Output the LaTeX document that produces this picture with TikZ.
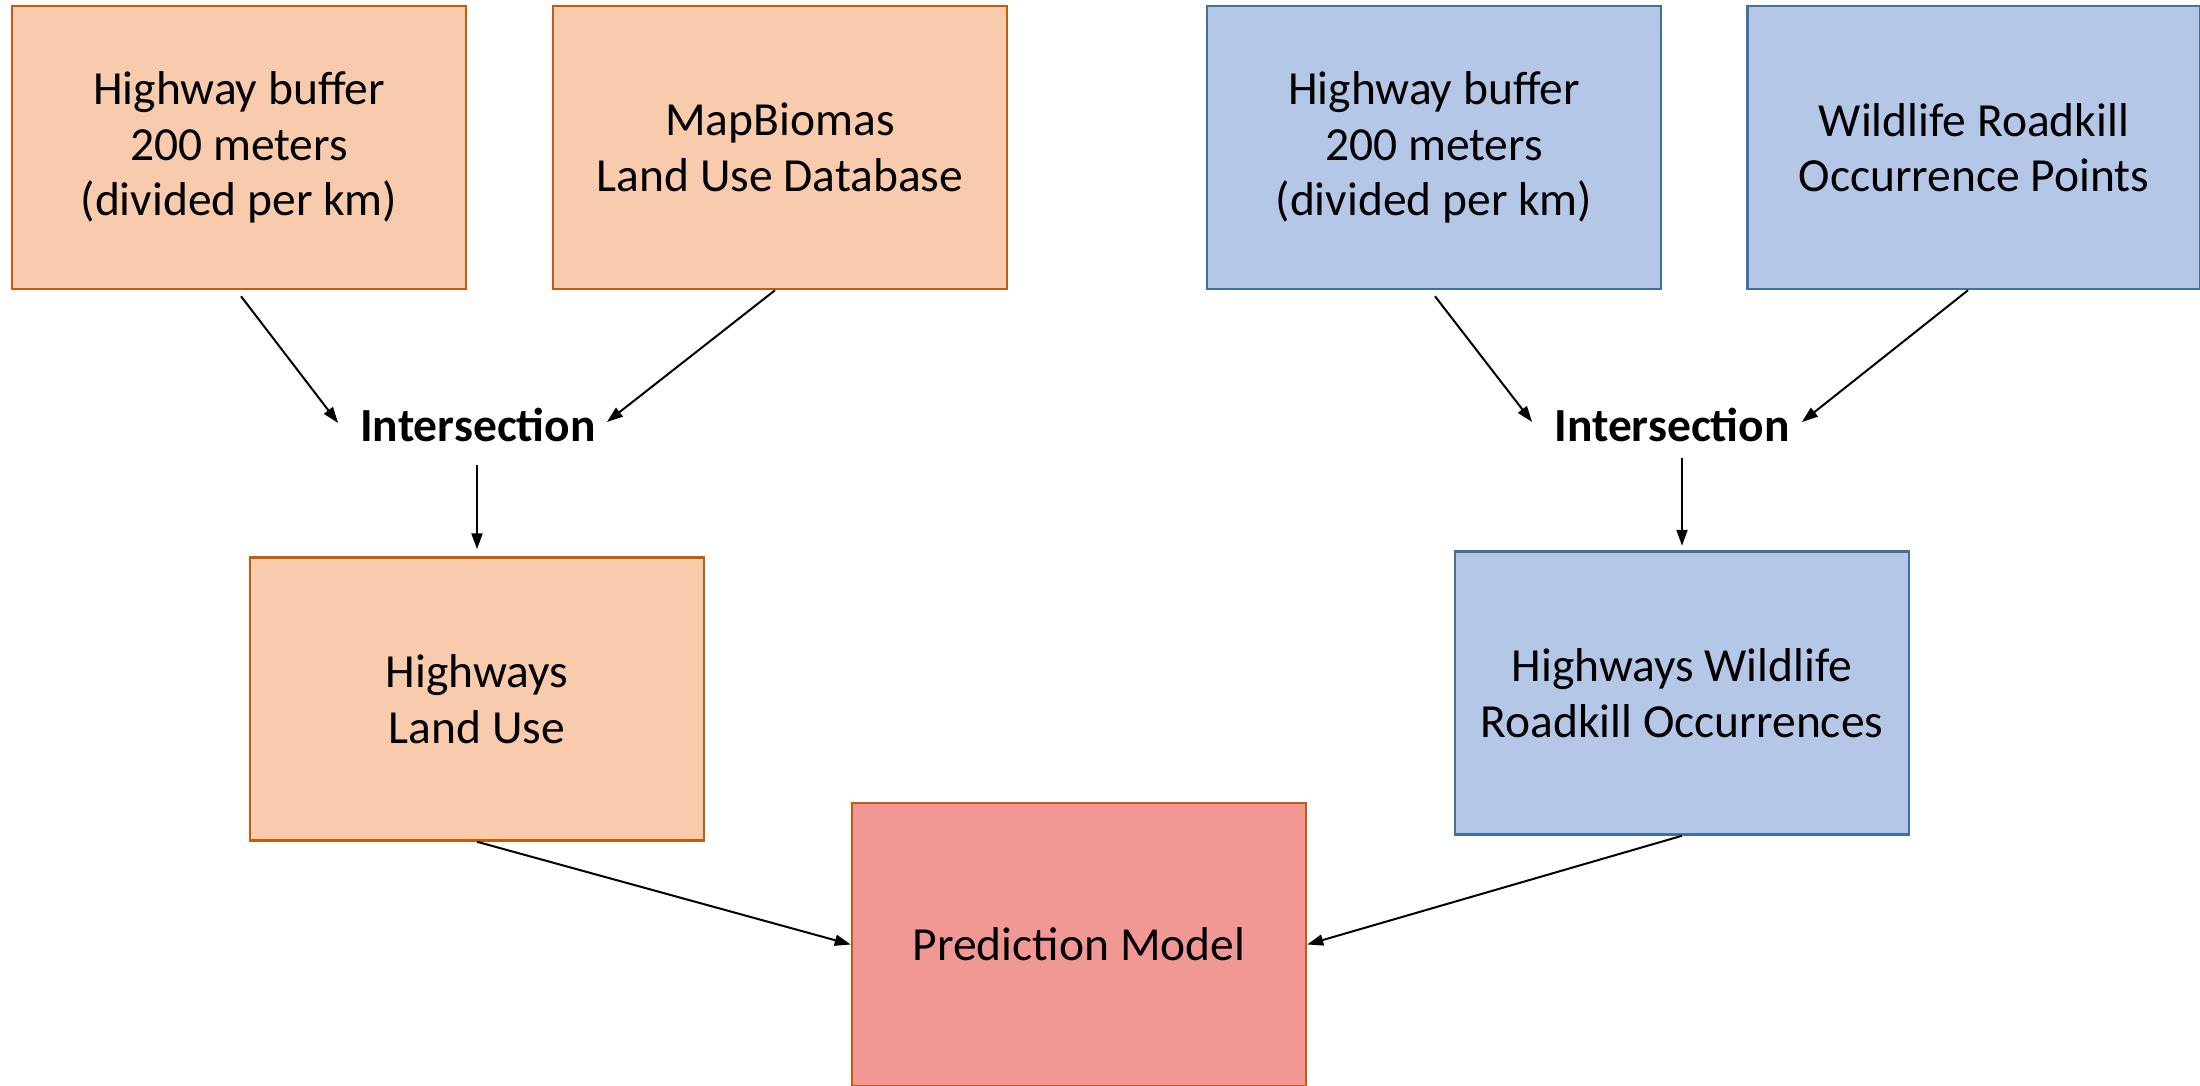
\documentclass[tikz,border=0pt]{standalone}
\usepackage{fontspec}
\setmainfont{Carlito}
\usetikzlibrary{arrows.meta}
\definecolor{orfill}{HTML}{F8CBAD}
\definecolor{ordraw}{HTML}{C55A11}
\definecolor{blfill}{HTML}{B4C7E7}
\definecolor{bldraw}{HTML}{41719C}
\definecolor{rdfill}{HTML}{F29894}
\newcommand\myfs{\fontsize{47.5}{55.5}\selectfont}
\tikzset{
  box/.style={draw, line width=2.5pt, minimum width=454pt, minimum height=283pt, align=center, font=\myfs, inner sep=0pt},
  obox/.style={box, fill=orfill, draw=ordraw},
  bbox/.style={box, fill=blfill, draw=bldraw},
  rbox/.style={box, fill=rdfill, draw=ordraw},
  inter/.style={font=\bfseries\myfs, inner sep=0pt},
  arr/.style={line width=2pt, -{Triangle[length=16pt,width=11pt]}}
}
\begin{document}
\begin{tikzpicture}[x=1pt,y=-1pt]
\useasboundingbox (0,0) rectangle (2200,1085);
\begin{scope}
\clip (0,0) rectangle (2200,1085);
\node[obox] (b1) at (239,147.5) {Highway buffer\\200 meters\\(divided per km)};
\node[obox] (b2) at (780,147.5) {MapBiomas\\Land Use Database};
\node[bbox] (b3) at (1434,147.5) {Highway buffer\\200 meters\\(divided per km)};
\node[bbox, minimum width=453pt] (b4) at (1974,147.5) {Wildlife Roadkill\\Occurrence Points};
\node[obox] (b5) at (477,699) {Highways\\Land Use};
\node[bbox] (b6) at (1682,693) {Highways Wildlife\\Roadkill Occurrences};
\node[rbox] (b7) at (1079,944.5) {Prediction Model};
\node[inter] (i1) at (478,425) {Intersection};
\node[inter] (i2) at (1672,425) {Intersection};
\end{scope}
\draw[arr] ([xshift=2pt,yshift=-6pt]b1.south) -- ([xshift=-22pt,yshift=2pt]i1.west);
\draw[arr] ([xshift=-5pt]b2.south) -- ([xshift=11pt,yshift=3pt]i1.east);
\draw[arr] ([xshift=-1pt,yshift=-23pt]i1.south) -- ([yshift=7pt]b5.north);
\draw[arr] ([xshift=1pt,yshift=-6pt]b3.south) -- ([xshift=-22pt,yshift=3pt]i2.west);
\draw[arr] ([xshift=-6pt]b4.south) -- ([xshift=12pt,yshift=3pt]i2.east);
\draw[arr] ([xshift=10pt,yshift=-16pt]i2.south) -- ([yshift=4.5pt]b6.north);
\draw[arr] (b5.south) -- (b7.west);
\draw[arr] (b6.south) -- (b7.east);
\end{tikzpicture}
\end{document}
